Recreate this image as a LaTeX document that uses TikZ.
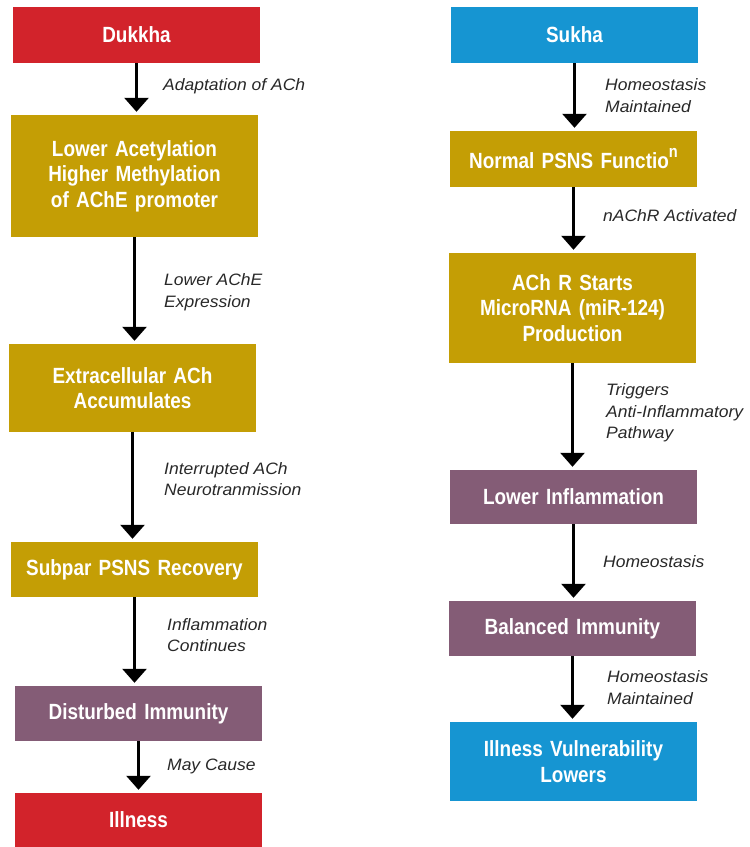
\documentclass[tikz,border=0pt]{standalone}
\usepackage{fontspec}
\setmainfont{Liberation Sans}
\newfontfamily\boxfont[FakeStretch=0.86, WordSpace=0.7]{Liberation Sans}
\newfontfamily\notefont[FakeStretch=1.06]{Liberation Sans}
\usetikzlibrary{arrows.meta}
\definecolor{dred}{RGB}{210,35,43}
\definecolor{dgold}{RGB}{196,158,5}
\definecolor{dblue}{RGB}{22,149,210}
\definecolor{dpurple}{RGB}{132,92,118}
\definecolor{notegray}{RGB}{40,40,40}
\tikzset{
  flowbox/.style={rectangle, inner sep=0pt, minimum width=247pt, text width=240pt,
    align=center, text=white, font=\boxfont\bfseries\fontsize{22}{25.5}\selectfont},
  redbox/.style={flowbox, fill=dred},
  goldbox/.style={flowbox, fill=dgold},
  bluebox/.style={flowbox, fill=dblue},
  purplebox/.style={flowbox, fill=dpurple},
  note/.style={anchor=west, align=left, inner sep=0pt, text=notegray,
    font=\notefont\itshape\fontsize{16.5}{21.5}\selectfont},
  flowarrow/.style={line width=2.8pt, shorten >=3pt,
    -{Triangle[width=24pt,length=14pt]}}
}
\begin{document}
\begin{tikzpicture}[x=1pt, y=-1pt]
\useasboundingbox (0,0) rectangle (750,847);

% left column: the path from Dukkha to illness
\node[redbox,    minimum height=56pt]  (dukkha)  at (136.5,35)  {Dukkha};
\node[goldbox,   minimum height=122pt] (lowac)   at (134.5,176) {Lower Acetylation\\Higher Methylation\\of AChE promoter};
\node[goldbox,   minimum height=88pt]  (extra)   at (132.5,388) {Extracellular ACh\\Accumulates};
\node[goldbox,   minimum height=55pt]  (subpar)  at (134.5,569.5) {Subpar PSNS Recovery};
\node[purplebox, minimum height=55pt]  (disturb) at (138.5,713.5) {Disturbed Immunity};
\node[redbox,    minimum height=54pt]  (illness) at (138.5,820) {Illness};

% right column: the path from Sukha to lower vulnerability
\node[bluebox,   minimum height=56pt]  (sukha)    at (574.5,35)  {Sukha};
\node[goldbox,   minimum height=56pt]  (normal)   at (573.5,159) {Normal PSNS Functio\raisebox{0.5em}{\fontsize{17}{17}\selectfont n}};
\node[goldbox,   minimum height=110pt] (achr)     at (572.5,308) {ACh R Starts\\MicroRNA (miR-124)\\Production};
\node[purplebox, minimum height=54pt]  (lowinf)   at (573.5,497) {Lower Inflammation};
\node[purplebox, minimum height=55pt]  (balanced) at (572.5,628.5) {Balanced Immunity};
\node[bluebox,   minimum height=79pt]  (illvul)   at (573.5,761.5) {Illness Vulnerability\\Lowers};

% connectors
\draw[flowarrow] (dukkha.south)  -- (dukkha.south |- lowac.north);
\draw[flowarrow] (lowac.south)   -- (lowac.south |- extra.north);
\draw[flowarrow] (extra.south)   -- (extra.south |- subpar.north);
\draw[flowarrow] (subpar.south)  -- (subpar.south |- disturb.north);
\draw[flowarrow] (disturb.south) -- (disturb.south |- illness.north);

\draw[flowarrow] (sukha.south)    -- (sukha.south |- normal.north);
\draw[flowarrow] (normal.south)   -- (normal.south |- achr.north);
\draw[flowarrow] (achr.south)     -- (achr.south |- lowinf.north);
\draw[flowarrow] (lowinf.south)   -- (lowinf.south |- balanced.north);
\draw[flowarrow] (balanced.south) -- (balanced.south |- illvul.north);

% connector labels
\node[note] (n1) at (163,86)  {Adaptation of ACh};
\node[note] (n2) at (164,292) {Lower AChE\\Expression};
\node[note] (n3) at (164,479) {Interrupted ACh\\Neurotranmission};
\node[note] (n4) at (167,635) {Inflammation\\Continues};
\node[note] (n5) at (167,766) {May Cause};

\node[note] (m1) at (605,95.5) {Homeostasis\\Maintained};
\node[note] (m2) at (603,216)  {nAChR Activated};
\node[note] (m3) at (606,413)  {Triggers\\Anti-Inflammatory\\Pathway};
\node[note] (m4) at (603,562)  {Homeostasis};
\node[note] (m5) at (607,687.5) {Homeostasis\\Maintained};
\end{tikzpicture}
\end{document}
